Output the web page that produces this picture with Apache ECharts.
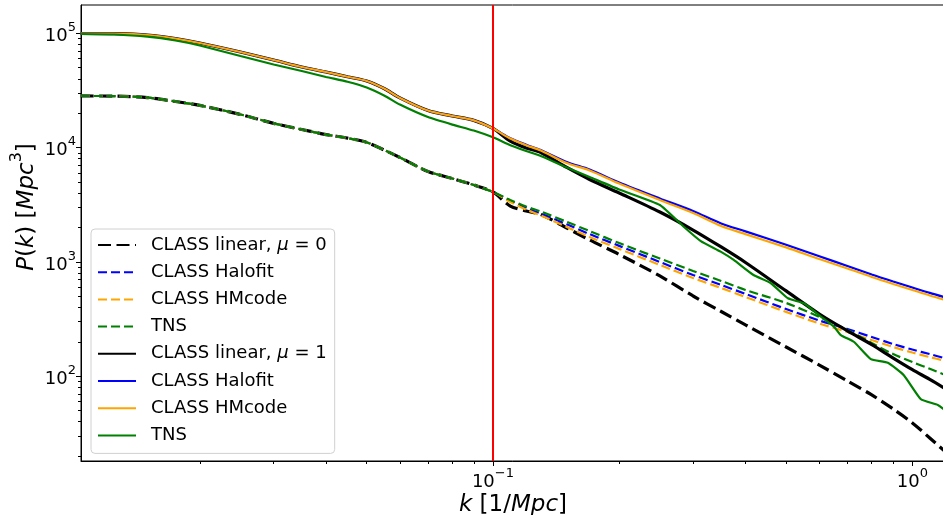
<!DOCTYPE html>
<html><head><meta charset="utf-8">
<script src="https://cdn.jsdelivr.net/npm/echarts@6/dist/echarts.min.js"></script>
<style>html,body{margin:0;padding:0;background:#fff}#c{width:943px;height:515px}</style>
</head><body><div id="c"></div>
<script>
// ---- data (k in 1/Mpc, P(k) in Mpc^3) ----
const kGrid = [0.0104,0.0125,0.015,0.0175,0.02,0.025,0.03,0.035,0.04,0.045,0.05,0.055,0.06,0.07,0.08,0.09,0.1,
  0.11,0.12,0.13,0.15,0.17,0.2,0.25,0.3,0.35,0.4,0.5,0.6,0.7,0.8,0.9,1.0,1.1,1.2];
const linear0  = [28300,28200,27400,25300,23400,19500,16300,14400,13000,12100,11100,9530,8190,6180,5370,4710,4090,
  3080,2790,2600,1980,1555,1161,753,503,368,281,180,125,90.8,68.5,51.6,39.0,28.8,21.7];
const halofit0 = [28300,28200,27400,25300,23400,19500,16300,14400,13000,12100,11100,9530,8190,6180,5370,4710,4090,
  3410,2960,2650,2130,1750,1380,998,768,628,524,387,307,259,220,191,171,156,143];
const hmcode0  = [28300,28200,27400,25300,23400,19500,16300,14400,13000,12100,11100,9530,8190,6180,5370,4710,4090,
  3340,2870,2550,2020,1650,1300,940,723,591,493,365,289,244,207,180,161,147,136];
const tns0     = [28300,28200,27400,25300,23400,19500,16300,14400,13000,12100,11100,9530,8190,6180,5370,4710,4090,
  3480,3050,2760,2240,1860,1460,1070,833,681,568,437,330,254,195,156,133,116,102];
const linear1  = [99600,99200,96600,90000,82300,68600,58400,50700,45900,41700,38300,32900,27200,21100,18900,17300,14700,
  11400,9920,9060,6700,5260,4010,2730,1900,1350,988,557,350,249,189,144,114,93.6,77.3];
const halofit1 = [99600,99200,96600,90000,82300,68600,58400,50700,45900,41700,38300,32900,27200,21100,18900,17300,14700,
  12100,10600,9530,7480,6430,4950,3590,2790,2170,1850,1410,1120,921,776,674,597,535,488];
const hmcode1  = [99600,99200,96600,90000,82300,68600,58400,50700,45900,41700,38300,32900,27200,21100,18900,17300,14700,
  12000,10500,9430,7330,6310,4850,3480,2680,2060,1750,1340,1060,876,738,641,568,508,464];
const kTns1 = [0.0104,0.0125,0.015,0.0175,0.02,0.025,0.03,0.035,0.04,0.045,0.05,0.055,0.06,0.07,0.08,0.09,0.1,
  0.11,0.12,0.13,0.15,0.17,0.2,0.25,0.285,0.313,0.349,0.375,0.418,0.46,0.505,0.551,0.605,0.65,0.675,0.725,0.796,0.874,0.954,1.048,1.15,1.202];
const tns1 = [98600,97600,93400,86500,78200,63300,53300,46800,41500,37700,33600,28600,23800,18500,15900,14100,12300,
  10500,9340,8440,6700,5530,4300,3150,2030,1520,1230,1040,768,650,480,434,332,271,229,200,141,131,102,62.8,56.0,49.6];
const kCut = 0.1;
const xMajorExp = [-1, 0];
const yMajorExp = [2, 3, 4, 5];
const xRange = [0.01042, 1.196];
const yRange = [18.1, 176900];
const seriesNames = ['CLASS linear, \u03bc = 0','CLASS Halofit','CLASS HMcode','TNS',
  'CLASS linear, \u03bc = 1','CLASS Halofit ','CLASS HMcode ','TNS '];

// ---- chart ----
const FONT = 'DejaVu Sans';
const L = Math.log10;
function pairs(ks, ps){ return ks.map((k,i)=>[L(k), L(ps[i])]); }
function minors(lo, hi){
  const out=[];
  for(let e=Math.floor(lo); e<=Math.ceil(hi); e++){
    for(let m=2;m<=9;m++){ const v=e+L(m); if(v>=lo && v<=hi) out.push(v); }
  }
  return out;
}
const xl=[L(xRange[0]),L(xRange[1])], yl=[L(yRange[0]),L(yRange[1])];
function powLabel(v){
  const e=Math.round(v);
  return '{b|10}{s|'+(e<0?'\u2212'+(-e):e)+'}';
}
const tickRich = {
  b:{fontFamily:FONT,fontSize:18,color:'#000',lineHeight:24,verticalAlign:'bottom'},
  s:{fontFamily:FONT,fontSize:13,color:'#000',lineHeight:14,verticalAlign:'top'}
};
const nameRich = {
  n:{fontFamily:FONT,fontSize:23,color:'#000',lineHeight:30,verticalAlign:'bottom'},
  i:{fontFamily:FONT,fontSize:23,fontStyle:'italic',color:'#000',lineHeight:30,verticalAlign:'bottom'},
  s:{fontFamily:FONT,fontSize:16,color:'#000',lineHeight:16,verticalAlign:'top'}
};
function mk(name, ks, ps, color, width, dash, smooth){
  return {name, type:'line', data:pairs(ks,ps), symbol:'none', showSymbol:false, clip:true,
    smooth: smooth, lineStyle:{color, width, type:dash||'solid'}, itemStyle:{color}, emphasis:{disabled:true}};
}
const series = [
  mk(seriesNames[0], kGrid, linear0, '#000000', 3.2, [13,5.5], 0.3),
  mk(seriesNames[1], kGrid, halofit0, '#0000ff', 2.2, [9,4], 0.3),
  mk(seriesNames[2], kGrid, hmcode0, '#ffa500', 2.2, [9,4], 0.3),
  mk(seriesNames[3], kGrid, tns0, '#008000', 2.2, [9,4], 0.3),
  mk(seriesNames[4], kGrid, linear1, '#000000', 3.2, null, 0.3),
  mk(seriesNames[5], kGrid, halofit1, '#0000ff', 2.2, null, 0.3),
  mk(seriesNames[6], kGrid, hmcode1, '#ffa500', 2.2, null, 0.3),
  mk(seriesNames[7], kTns1, tns1, '#008000', 2.2, null, 0.15),
  {name:'cut', type:'line', data:[], z:5,
   markLine:{silent:true, symbol:['none','none'], label:{show:false},
     lineStyle:{color:'#ff0000', width:2, type:'solid'}, data:[{xAxis:L(kCut)}]}}
];
const axisLineStyle={color:'#000',width:1};
const option = {
  animation:false,
  grid:{left:81, top:5, width:864, bottom:54, show:true, borderColor:'#000', borderWidth:1,
        containLabel:false, outerBoundsMode:'none'},
  xAxis:[
    {type:'value', min:xl[0], max:xl[1], position:'bottom',
     axisLine:{show:true,onZero:false,lineStyle:axisLineStyle},
     axisTick:{show:true,customValues:xMajorExp,length:5,lineStyle:axisLineStyle},
     axisLabel:{customValues:xMajorExp,formatter:powLabel,margin:6,rich:tickRich},
     splitLine:{show:false},
     name:'{i|k} {n|[1/}{i|Mpc}{n|]}', nameLocation:'middle', nameGap:26, nameMoveOverlap:false,
     nameTextStyle:{fontFamily:FONT,fontSize:23,color:'#000',rich:nameRich}},
    {type:'value', min:xl[0], max:xl[1], position:'bottom',
     axisLine:{show:false,onZero:false}, axisLabel:{show:false}, splitLine:{show:false},
     axisTick:{show:true,customValues:minors(xl[0],xl[1]),length:3,lineStyle:axisLineStyle}}
  ],
  yAxis:[
    {type:'value', min:yl[0], max:yl[1], position:'left',
     axisLine:{show:true,onZero:false,lineStyle:axisLineStyle},
     axisTick:{show:true,customValues:yMajorExp,length:5,lineStyle:axisLineStyle},
     axisLabel:{customValues:yMajorExp,formatter:powLabel,margin:5,rich:tickRich},
     splitLine:{show:false},
     name:'{i|P}{n|(}{i|k}{n|) [}{i|Mpc}{s|3}{n|]}', nameLocation:'middle', nameGap:42, nameRotate:90,
     nameMoveOverlap:false,
     nameTextStyle:{fontFamily:FONT,fontSize:23,color:'#000',rich:nameRich,padding:[0,0,0,52]}},
    {type:'value', min:yl[0], max:yl[1], position:'left',
     axisLine:{show:false,onZero:false}, axisLabel:{show:false}, splitLine:{show:false},
     axisTick:{show:true,customValues:minors(yl[0],yl[1]),length:3,lineStyle:axisLineStyle}}
  ],
  legend:{
    data:seriesNames, left:91, top:229, orient:'vertical',
    itemWidth:38, itemHeight:14, itemGap:7.2, padding:[6,8,8,6],
    backgroundColor:'rgba(255,255,255,0.8)', borderColor:'#d0d0d0', borderWidth:1, borderRadius:4,
    selectedMode:false, itemStyle:{opacity:0},
    formatter:n=>n.trim().replace('\u03bc','{i|\u03bc}'),
    textStyle:{fontFamily:FONT,fontSize:18,color:'#000',lineHeight:20,padding:[0,0,0,10],
      rich:{i:{fontFamily:FONT,fontSize:18,fontStyle:'italic',color:'#000',lineHeight:20}}}
  },
  series
};
const chart = echarts.init(document.getElementById('c'), null, {renderer:'canvas'});
chart.setOption(option);
</script>
</body></html>
